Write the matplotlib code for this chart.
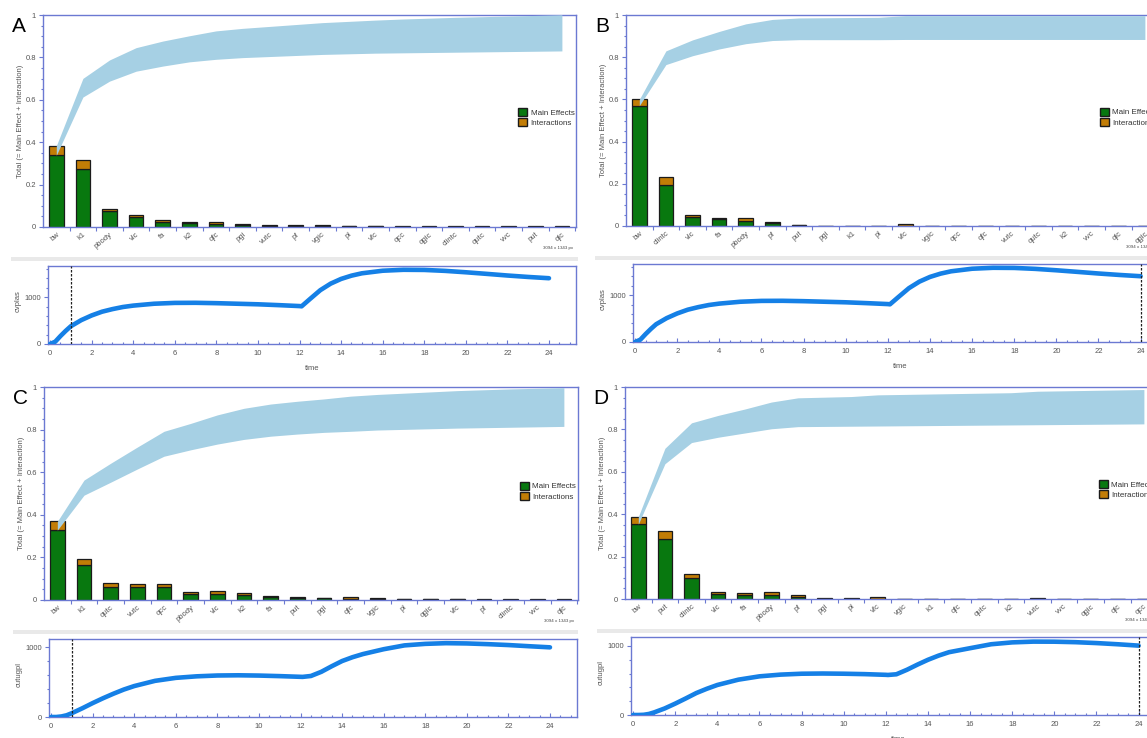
import numpy as np
import matplotlib
matplotlib.use("Agg")
import matplotlib.pyplot as plt
from matplotlib.patches import Patch, Rectangle
from matplotlib.ticker import MultipleLocator, FixedLocator

plt.rcParams["font.family"] = ["Liberation Sans", "DejaVu Sans"]

W, H = 1147, 738

# --- sensitivity results (total = main effect + interaction), sorted per output ---
names_a = ["bw", "k1", "pbody", "vlc", "fa", "k2", "qfc", "pgi", "vutc", "pf",
           "vgic", "pl", "vfc", "qcc", "qgic", "clintc", "qutc", "vvc", "put", "qlc"]
total_a = [0.383, 0.318, 0.087, 0.058, 0.031, 0.025, 0.023, 0.012, 0.009, 0.009,
           0.009, 0.006, 0.006, 0.005, 0.004, 0.004, 0.003, 0.003, 0.003, 0.003]
main_a = [0.338, 0.275, 0.075, 0.047, 0.024, 0.020, 0.012, 0.008, 0.005, 0.005,
          0.005, 0.003, 0.003, 0.0015, 0.0015, 0.0015, 0.0015, 0.0015, 0.0015, 0.0015]

names_b = ["bw", "clintc", "vlc", "fa", "pbody", "pf", "put", "pgi", "k1", "pl",
           "vfc", "vgic", "qcc", "qfc", "vutc", "qutc", "k2", "vvc", "qlc", "qgic"]
total_b = [0.600, 0.230, 0.052, 0.040, 0.036, 0.021, 0.007, 0.001, 0.001, 0.001,
           0.008, 0.0, 0.0, 0.0, 0.0, 0.0, 0.0, 0.0, 0.0, 0.0]
main_b = [0.570, 0.195, 0.042, 0.032, 0.025, 0.015, 0.004, 0.0, 0.0, 0.0,
          0.001, 0.0, 0.0, 0.0, 0.0, 0.0, 0.0, 0.0, 0.0, 0.0]

names_c = ["bw", "k1", "qutc", "vutc", "qcc", "pbody", "vlc", "k2", "fa", "put",
           "pgi", "qfc", "vgic", "pl", "qgic", "vfc", "pf", "clintc", "vvc", "qlc"]
total_c = [0.369, 0.194, 0.079, 0.076, 0.074, 0.037, 0.040, 0.031, 0.020, 0.013,
           0.011, 0.013, 0.008, 0.006, 0.006, 0.006, 0.004, 0.004, 0.003, 0.003]
main_c = [0.328, 0.164, 0.061, 0.062, 0.060, 0.030, 0.027, 0.022, 0.015, 0.010,
          0.008, 0.005, 0.006, 0.003, 0.003, 0.003, 0.002, 0.002, 0.002, 0.002]

names_d = ["bw", "put", "clintc", "vlc", "fa", "pbody", "pf", "pgi", "pl", "vfc",
           "vgic", "k1", "qfc", "qutc", "k2", "vutc", "vvc", "qgic", "qlc", "qcc"]
total_d = [0.388, 0.323, 0.120, 0.035, 0.030, 0.033, 0.020, 0.003, 0.003, 0.008,
           0.002, 0.002, 0.002, 0.002, 0.002, 0.007, 0.002, 0.002, 0.002, 0.002]
main_d = [0.353, 0.285, 0.100, 0.025, 0.020, 0.020, 0.010, 0.001, 0.001, 0.001,
          0.001, 0.001, 0.001, 0.001, 0.001, 0.001, 0.001, 0.001, 0.001, 0.001]

# --- simulated time courses ---
time = [0, 0.25, 0.5, 0.75, 1, 1.5, 2, 2.5, 3, 3.5, 4, 5, 6, 7, 8, 9, 10, 11, 12,
        12.1, 12.5, 13, 13.5, 14, 14.5, 15, 16, 17, 18, 19, 20, 21, 22, 23, 24]
cvplas = [0, 50, 170, 280, 380, 510, 610, 690, 745, 790, 820, 860, 878, 880, 872,
          860, 848, 830, 810, 805, 960, 1150, 1290, 1390, 1460, 1510, 1565, 1585,
          1582, 1562, 1532, 1498, 1463, 1432, 1405]
cutugpl_c = [0, 0, 8, 25, 55, 125, 200, 270, 335, 395, 445, 520, 563, 585, 597,
             600, 596, 588, 578, 577, 590, 650, 730, 805, 860, 905, 975, 1030,
             1052, 1062, 1058, 1048, 1035, 1018, 1002]
cutugpl_d = [0, 0, 3, 15, 38, 95, 165, 240, 318, 380, 435, 512, 560, 585, 598,
             601, 598, 592, 582, 580, 590, 655, 730, 800, 860, 910, 968, 1025,
             1052, 1063, 1062, 1055, 1042, 1025, 1005]

GREEN = "#08780f"
ORANGE = "#c27d06"
BAND = "#a6d0e4"
LINE = "#1580e6"
SPINE = "#6b79d2"
TXT = "#555555"


def px_rect(left, top, right, bottom):
    return [left / W, 1 - bottom / H, (right - left) / W, (bottom - top) / H]


def style_spines(ax):
    for s in ax.spines.values():
        s.set_color(SPINE)
        s.set_linewidth(1.0)
    ax.tick_params(which="both", colors=SPINE, labelcolor=TXT, labelsize=5.5,
                   width=0.8)


def pareto(rect, names, total, main, letter, leg_xy):
    ax = fig.add_axes(px_rect(*rect))
    total = np.array(total)
    main = np.array(main)
    x = np.arange(len(names))
    ax.bar(x, main, 0.55, color=GREEN, edgecolor="#1b1b1b", linewidth=0.9,
           zorder=2)
    ax.bar(x, total - main, 0.55, bottom=main, color=ORANGE,
           edgecolor="#1b1b1b", linewidth=0.9, zorder=2)
    ax.fill_between(x, np.cumsum(main), np.cumsum(total), color=BAND,
                    linewidth=0, zorder=3)
    ax.set_xlim(-0.5, 19.53)
    ax.set_ylim(0, 1)
    ax.set_xticks(x)
    ax.set_xticklabels(names, rotation=40, ha="right", rotation_mode="anchor")
    ax.xaxis.set_minor_locator(FixedLocator(np.arange(0.5, 19.6, 1)))
    ax.set_yticks([0, 0.2, 0.4, 0.6, 0.8, 1.0])
    ax.set_yticklabels(["0", "0.2", "0.4", "0.6", "0.8", "1"])
    ax.yaxis.set_minor_locator(MultipleLocator(0.05))
    style_spines(ax)
    ax.tick_params(axis="x", which="major", length=0, pad=3)
    ax.tick_params(axis="x", which="minor", length=3)
    ax.tick_params(axis="y", which="major", length=3, pad=2)
    ax.tick_params(axis="y", which="minor", length=1.8)
    ax.set_ylabel("Total (= Main Effect + Interaction)", fontsize=5.5, color=TXT)
    ax.yaxis.set_label_coords(-0.036, 0.5)
    handles = [Patch(facecolor=GREEN, edgecolor="#1b1b1b", label="Main Effects"),
               Patch(facecolor=ORANGE, edgecolor="#1b1b1b", label="Interactions")]
    leg = ax.legend(handles=handles, loc="upper left", bbox_to_anchor=leg_xy,
                    frameon=False, fontsize=5.8, handlelength=1.1,
                    handleheight=1.1, handletextpad=0.4, labelspacing=0.2,
                    borderpad=0, borderaxespad=0)
    for t in leg.get_texts():
        t.set_color("#333333")
    fig.text((rect[0] - 24) / W, 1 - (rect[1] + 12) / H, letter, fontsize=15,
             ha="center", va="center")
    fig.text((rect[0] + 515) / W, 1 - (rect[3] + 21) / H, "3094 x 1343 px",
             fontsize=3.2, color="#444444", ha="center", va="center")
    return ax


def course(rect, values, ylabel, ymax, vline):
    ax = fig.add_axes(px_rect(*rect))
    ax.plot(time, values, color=LINE, linewidth=3.3, solid_capstyle="round",
            zorder=3)
    ax.axvline(vline, color="#222222", linestyle="--", linewidth=0.9,
               dashes=(2, 1.2), zorder=4)
    ax.set_xlim(-0.1, 25.3)
    ax.set_ylim(0, ymax)
    ax.xaxis.set_major_locator(MultipleLocator(2))
    ax.xaxis.set_minor_locator(MultipleLocator(0.5))
    ax.set_yticks([0, 1000])
    ax.yaxis.set_minor_locator(MultipleLocator(200))
    style_spines(ax)
    ax.tick_params(axis="x", which="major", direction="in", length=3, pad=4)
    ax.tick_params(axis="x", which="minor", direction="in", length=1.8)
    ax.tick_params(axis="y", which="major", length=3, pad=2)
    ax.tick_params(axis="y", which="minor", length=1.8)
    ax.set_xlabel("time", fontsize=5.5, color=TXT)
    ax.xaxis.set_label_coords(0.5, -0.27)
    ax.set_ylabel(ylabel, fontsize=5.5, color=TXT)
    ax.yaxis.set_label_coords(-0.05, 0.55)
    return ax


fig = plt.figure(figsize=(W / 100, H / 100), dpi=100)
fig.patch.set_facecolor("white")

# grey strips separating the two halves of each panel
for left, top, right in [(11, 257, 578), (595, 256, W), (13, 630, 578), (597, 629, W)]:
    fig.patches.append(Rectangle((left / W, 1 - (top + 4) / H), (right - left) / W,
                                 4 / H, transform=fig.transFigure,
                                 facecolor="#e9e9e9", edgecolor="none"))

pareto((43, 15, 576, 227), names_a, total_a, main_a, "A", (0.892, 0.56))
pareto((626, 15, 1159, 226), names_b, total_b, main_b, "B", (0.89, 0.56))
pareto((44, 387, 578, 600), names_c, total_c, main_c, "C", (0.892, 0.555))
pareto((625, 387, 1158, 599), names_d, total_d, main_d, "D", (0.89, 0.56))

course((48, 266, 576, 344), cvplas, "cvplas", 1666, 1)
course((633, 264, 1168, 342), cvplas, "cvplas", 1666, 24)
course((49, 639, 577, 717), cutugpl_c, "cutugpl", 1122, 1)
course((631, 637, 1166, 715), cutugpl_d, "cutugpl", 1130, 24)

fig.savefig("out.png", dpi=100)
